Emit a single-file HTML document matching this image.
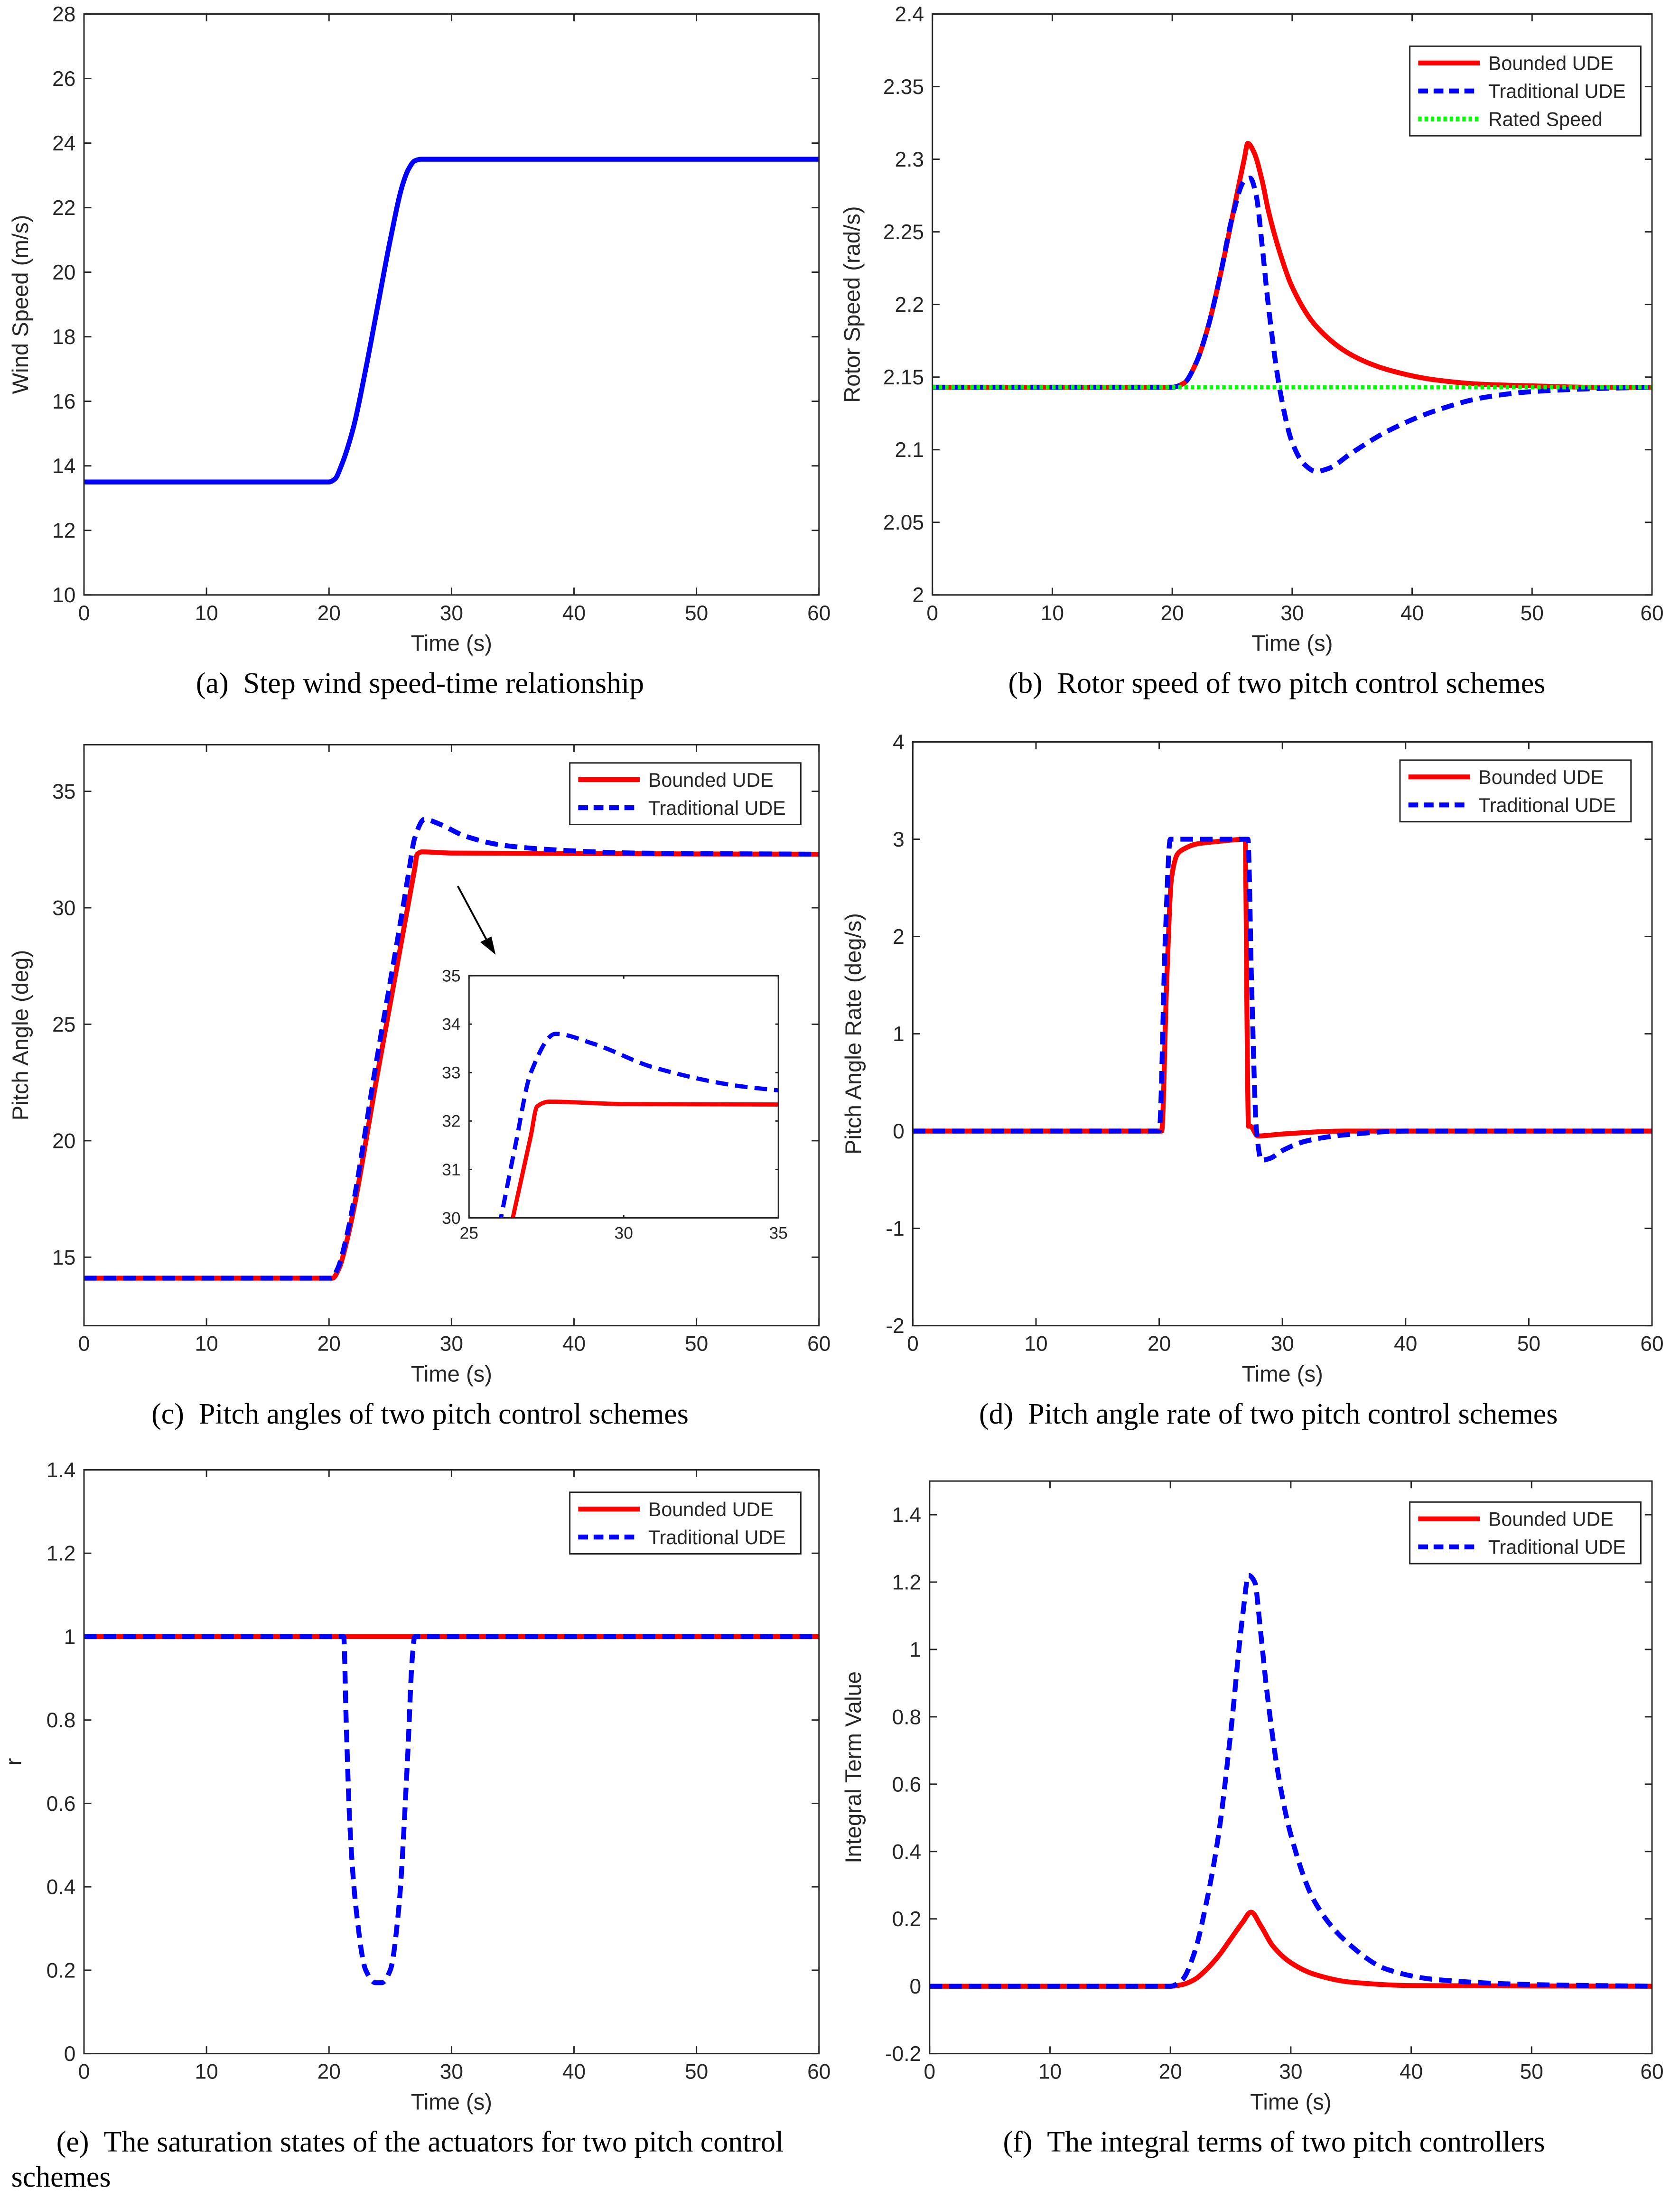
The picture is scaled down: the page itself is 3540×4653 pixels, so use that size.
<!DOCTYPE html>
<html><head><meta charset="utf-8"><style>
html,body{margin:0;padding:0;background:#fff;}
svg{display:block;}
text{font-family:"Liberation Sans",sans-serif;fill:#262626;}
.cap{font-family:"Liberation Serif",serif;font-size:21px;fill:#000;}
</style></head><body>
<svg id="fig" xmlns="http://www.w3.org/2000/svg" width="3540" height="4653" viewBox="0 0 1200 1577.3"></svg>
<script>
// ---- data ----
const aT=[0,20,20.5,21,22,23,24,25,26,26.5,27,27.5,60];
const aV=[13.5,13.5,13.6,14,15.2,17,19,21,22.7,23.2,23.45,23.5,23.5];
const bRedT=[0,20,21,22,23,24,25,26,26.3,26.8,27.5,28,29,30,32,35,38,42,46,50,55,60];
const bRedV=[2.143,2.143,2.146,2.16,2.185,2.22,2.26,2.3,2.311,2.305,2.285,2.265,2.235,2.212,2.185,2.165,2.155,2.148,2.145,2.144,2.143,2.143];
const bBlueT=[0,20,21,22,23,24,25,26,26.5,27,27.5,28,29,30,31,32,33,35,38,42,46,50,55,60];
const bBlueV=[2.143,2.143,2.146,2.16,2.185,2.22,2.26,2.285,2.287,2.275,2.24,2.2,2.14,2.105,2.09,2.085,2.087,2.098,2.113,2.127,2.136,2.14,2.142,2.143];
const bRatedT=[0,60];
const bRatedV=[2.143,2.143];
const cRedT=[0,20.3,20.8,21.5,24,26,27,27.2,27.6,30,60];
const cRedV=[14.1,14.1,14.5,15.8,23.0,28.8,31.7,32.3,32.4,32.35,32.3];
const cBlueT=[0,20.2,20.7,21.4,24,26,26.5,27,27.8,29,31,34,38,45,60];
const cBlueV=[14.1,14.1,14.5,15.8,23.8,29.9,31.5,33,33.8,33.6,33.1,32.7,32.5,32.35,32.3];
const dRedT=[0,20.2,20.6,21,21.5,22,23,25,27,27.1,27.25,27.4,28,30,35,60];
const dRedV=[0,0,1.5,2.6,2.85,2.9,2.95,2.98,3,1.5,0.05,0.05,-0.05,-0.03,0,0];
const dBlueT=[0,20,20.5,20.9,27.2,27.5,27.9,28.3,29,30,32,35,40,60];
const dBlueV=[0,0,2,3,3,1.5,0,-0.3,-0.28,-0.2,-0.1,-0.04,0,0];
const eRedT=[0,60];
const eRedV=[1,1];
const eBlueT=[0,21.2,21.4,21.7,22.2,23,23.8,24.3,25,25.7,26.4,26.8,27,60];
const eBlueV=[1,1,0.8,0.55,0.35,0.2,0.17,0.17,0.2,0.35,0.7,0.95,1,1];
const fRedT=[0,20,21,22,23,24,25,26,26.7,27.5,28.5,30,32,35,40,60];
const fRedV=[0,0,0.005,0.02,0.05,0.09,0.14,0.19,0.22,0.18,0.12,0.07,0.035,0.012,0.002,0];
const fBlueT=[0,20,21,22,23,24,25,26,26.5,27,27.5,28,29,30,32,35,38,42,50,60];
const fBlueV=[0,0,0.02,0.1,0.25,0.45,0.75,1.1,1.22,1.2,1.05,0.88,0.62,0.45,0.25,0.12,0.05,0.02,0.005,0];
const xTicks=[0,10,20,30,40,50,60];
const aYTicks=[10,12,14,16,18,20,22,24,26,28];
const bYTicks=[2,2.05,2.1,2.15,2.2,2.25,2.3,2.35,2.4];
const cYTicks=[15,20,25,30,35];
const dYTicks=[-2,-1,0,1,2,3,4];
const eYTicks=[0,0.2,0.4,0.6,0.8,1,1.2,1.4];
const fYTicks=[-0.2,0,0.2,0.4,0.6,0.8,1,1.2,1.4];
const insetXTicks=[25,30,35];
const insetYTicks=[30,31,32,33,34,35];

const NS="http://www.w3.org/2000/svg";
const svg=document.getElementById('fig');
let clipId=0;
function mk(tag,attrs,parent){const e=document.createElementNS(NS,tag);for(const k in attrs)e.setAttribute(k,attrs[k]);(parent||svg).appendChild(e);return e;}
function txt(s,x,y,size,anchor,parent,cls){const t=mk('text',{x:x,y:y,'font-size':size,'text-anchor':anchor||'middle'},parent);if(cls)t.setAttribute('class',cls);t.textContent=s;return t;}

function axes(name,x0,y0,x1,y1,xmin,xmax,ymin,ymax,xt,yt,ylabel,fs,showXLabel,yoff){
  const g=mk('g',{});
  
  
  const sx=v=>x0+(v-xmin)/(xmax-xmin)*(x1-x0);
  const sy=v=>y1-(v-ymin)/(ymax-ymin)*(y1-y0);
  mk('rect',{x:x0,y:y0,width:x1-x0,height:y1-y0,fill:'#fff',stroke:'none'},g);
  const tl=(x1-x0)*0.01;
  xt.forEach(v=>{const x=sx(v);mk('line',{x1:x,x2:x,y1:y1,y2:y1-tl,stroke:'#262626','stroke-width':1},g);mk('line',{x1:x,x2:x,y1:y0,y2:y0+tl,stroke:'#262626','stroke-width':1},g);txt(String(v),x,y1+fs+3,fs,'middle',g);});
  yt.forEach(v=>{const y=sy(v);mk('line',{x1:x0,x2:x0+tl,y1:y,y2:y,stroke:'#262626','stroke-width':1},g);mk('line',{x1:x1,x2:x1-tl,y1:y,y2:y,stroke:'#262626','stroke-width':1},g);txt(String(v),x0-6,y+fs*0.35,fs,'end',g);});
  const id='c'+(clipId++);
  const cp=mk('clipPath',{id:id},g);mk('rect',{x:x0,y:y0,width:x1-x0,height:y1-y0},cp);
  const plot=mk('g',{'clip-path':'url(#'+id+')'},g);
  if(showXLabel){const xl=txt('Time (s)',(x0+x1)/2,y1+fs+25,16,'middle',g);}
  if(ylabel){const yl=txt(ylabel,0,0,16,'middle',g);yl.setAttribute('transform','translate('+(x0-(yoff||40))+','+((y0+y1)/2)+') rotate(-90)');}
  return {g,plot,sx,sy,frame:()=>mk('rect',{x:x0,y:y0,width:x1-x0,height:y1-y0,fill:'none',stroke:'#262626','stroke-width':1},g)};
}
// monotone cubic path (no overshoot)
function monoPath(P){
  const n=P.length;if(n<3){return P.map((p,i)=>(i?'L':'M')+p[0].toFixed(2)+','+p[1].toFixed(2)).join('');}
  const dx=[],dy=[],m=[];
  for(let i=0;i<n-1;i++){dx.push(P[i+1][0]-P[i][0]);dy.push(P[i+1][1]-P[i][1]);m.push(dy[i]/dx[i]);}
  const t=[m[0]];
  for(let i=1;i<n-1;i++){if(m[i-1]*m[i]<=0)t.push(0);else{const w1=2*dx[i]+dx[i-1],w2=dx[i]+2*dx[i-1];t.push((w1+w2)/(w1/m[i-1]+w2/m[i]));}}
  t.push(m[n-2]);
  let d='M'+P[0][0].toFixed(2)+','+P[0][1].toFixed(2);
  for(let i=0;i<n-1;i++){const h=dx[i]/3;
    d+='C'+(P[i][0]+h).toFixed(2)+','+(P[i][1]+t[i]*h).toFixed(2)+' '+(P[i+1][0]-h).toFixed(2)+','+(P[i+1][1]-t[i+1]*h).toFixed(2)+' '+P[i+1][0].toFixed(2)+','+P[i+1][1].toFixed(2);}
  return d;
}
function series(ax,T,V,color,dash,name,w){
  const P=T.map((t,i)=>[ax.sx(t),ax.sy(V[i])]);
  const p=mk('path',{d:monoPath(P),fill:'none',stroke:color,'stroke-width':w||3.5,'stroke-linejoin':'round'},ax.plot);
  if(dash)p.setAttribute('stroke-dasharray',dash);
  
  
}
function legend(name,x,y,w,entries){
  const g=mk('g',{});
  
  
  const h=entries.length*20+4;
  mk('rect',{x:x,y:y,width:w,height:h,fill:'#fff',stroke:'#262626','stroke-width':1},g);
  entries.forEach((e,i)=>{const yy=y+12+i*20;const l=mk('line',{x1:x+6,x2:x+50,y1:yy,y2:yy,stroke:e[1],'stroke-width':3.5},g);if(e[2])l.setAttribute('stroke-dasharray',e[2]);txt(e[0],x+56,yy+5,14,'start',g);});
}
function caption(s,x,y,name){const t=txt(s,x,y,21,'middle',null,'cap');return t;}
const RED='#ff0000',BLUE='#0000ff',DASH='9,5';
const SP='\u00a0\u00a0';

// (a)
let A=axes('wind-speed-chart',60,10,585,425,0,60,10,28,xTicks,aYTicks,'Wind Speed (m/s)',15,true,40);
series(A,aT,aV,BLUE,null,'wind-speed-line');A.frame();
caption('(a)'+SP+'Step wind speed-time relationship',300,495,'caption-a');

// (b)
let B=axes('rotor-speed-chart',666,10,1180,425,0,60,2,2.4,xTicks,bYTicks,'Rotor Speed (rad/s)',15,true,52);
series(B,bRedT,bRedV,RED,null,'bounded-ude-rotor-line');
series(B,bBlueT,bBlueV,BLUE,DASH,'traditional-ude-rotor-line');
series(B,bRatedT,bRatedV,'#00ff00','2.5,2','rated-speed-line',3);B.frame();
legend('rotor-legend',1007,33,165,[['Bounded UDE',RED],['Traditional UDE',BLUE,'7,4'],['Rated Speed','#00ff00','2.5,2']]);
caption('(b)'+SP+'Rotor speed of two pitch control schemes',912,495,'caption-b');

// (c)
let C=axes('pitch-angle-chart',60,532,585,947,0,60,12.06,37,xTicks,cYTicks,'Pitch Angle (deg)',15,true,40);
series(C,cRedT,cRedV,RED,null,'bounded-ude-pitch-line');
series(C,cBlueT,cBlueV,BLUE,DASH,'traditional-ude-pitch-line');C.frame();
legend('pitch-legend',407,545,165,[['Bounded UDE',RED],['Traditional UDE',BLUE,'7,4']]);
mk('line',{x1:327,y1:633,x2:350,y2:676,stroke:'#000','stroke-width':1.3});
mk('path',{d:'M354,682 L343,673 L351,669 Z',fill:'#000'});
let CI=axes('pitch-angle-inset',335,697,556,870,25,35,30,35,insetXTicks,insetYTicks,null,12,false);
series(CI,cRedT,cRedV,RED,null,'bounded-ude-inset-line',3);
series(CI,cBlueT,cBlueV,BLUE,DASH,'traditional-ude-inset-line',3);CI.frame();
caption('(c)'+SP+'Pitch angles of two pitch control schemes',300,1017,'caption-c');

// (d)
let D=axes('pitch-rate-chart',652,530,1180,947,0,60,-2,4,xTicks,dYTicks,'Pitch Angle Rate (deg/s)',15,true,37);
series(D,dRedT,dRedV,RED,null,'bounded-ude-rate-line');
series(D,dBlueT,dBlueV,BLUE,DASH,'traditional-ude-rate-line');D.frame();
legend('rate-legend',1000,543,165,[['Bounded UDE',RED],['Traditional UDE',BLUE,'7,4']]);
caption('(d)'+SP+'Pitch angle rate of two pitch control schemes',906,1017,'caption-d');

// (e)
let E=axes('saturation-chart',60,1050,585,1467,0,60,0,1.4,xTicks,eYTicks,'r',15,true,45);
series(E,eRedT,eRedV,RED,null,'bounded-ude-saturation-line');
series(E,eBlueT,eBlueV,BLUE,DASH,'traditional-ude-saturation-line');E.frame();
legend('saturation-legend',407,1066,165,[['Bounded UDE',RED],['Traditional UDE',BLUE,'7,4']]);
caption('(e)'+SP+'The saturation states of the actuators for two pitch control',300,1537,'caption-e');
const ce2=txt('schemes',8,1562,21,'start',null,'cap');

// (f)
let F=axes('integral-term-chart',664,1058,1180,1467,0,60,-0.2,1.5,xTicks,fYTicks,'Integral Term Value',15,true,49);
series(F,fRedT,fRedV,RED,null,'bounded-ude-integral-line');
series(F,fBlueT,fBlueV,BLUE,DASH,'traditional-ude-integral-line');F.frame();
legend('integral-legend',1007,1073,165,[['Bounded UDE',RED],['Traditional UDE',BLUE,'7,4']]);
caption('(f)'+SP+'The integral terms of two pitch controllers',910,1537,'caption-f');
</script>
</body></html>
